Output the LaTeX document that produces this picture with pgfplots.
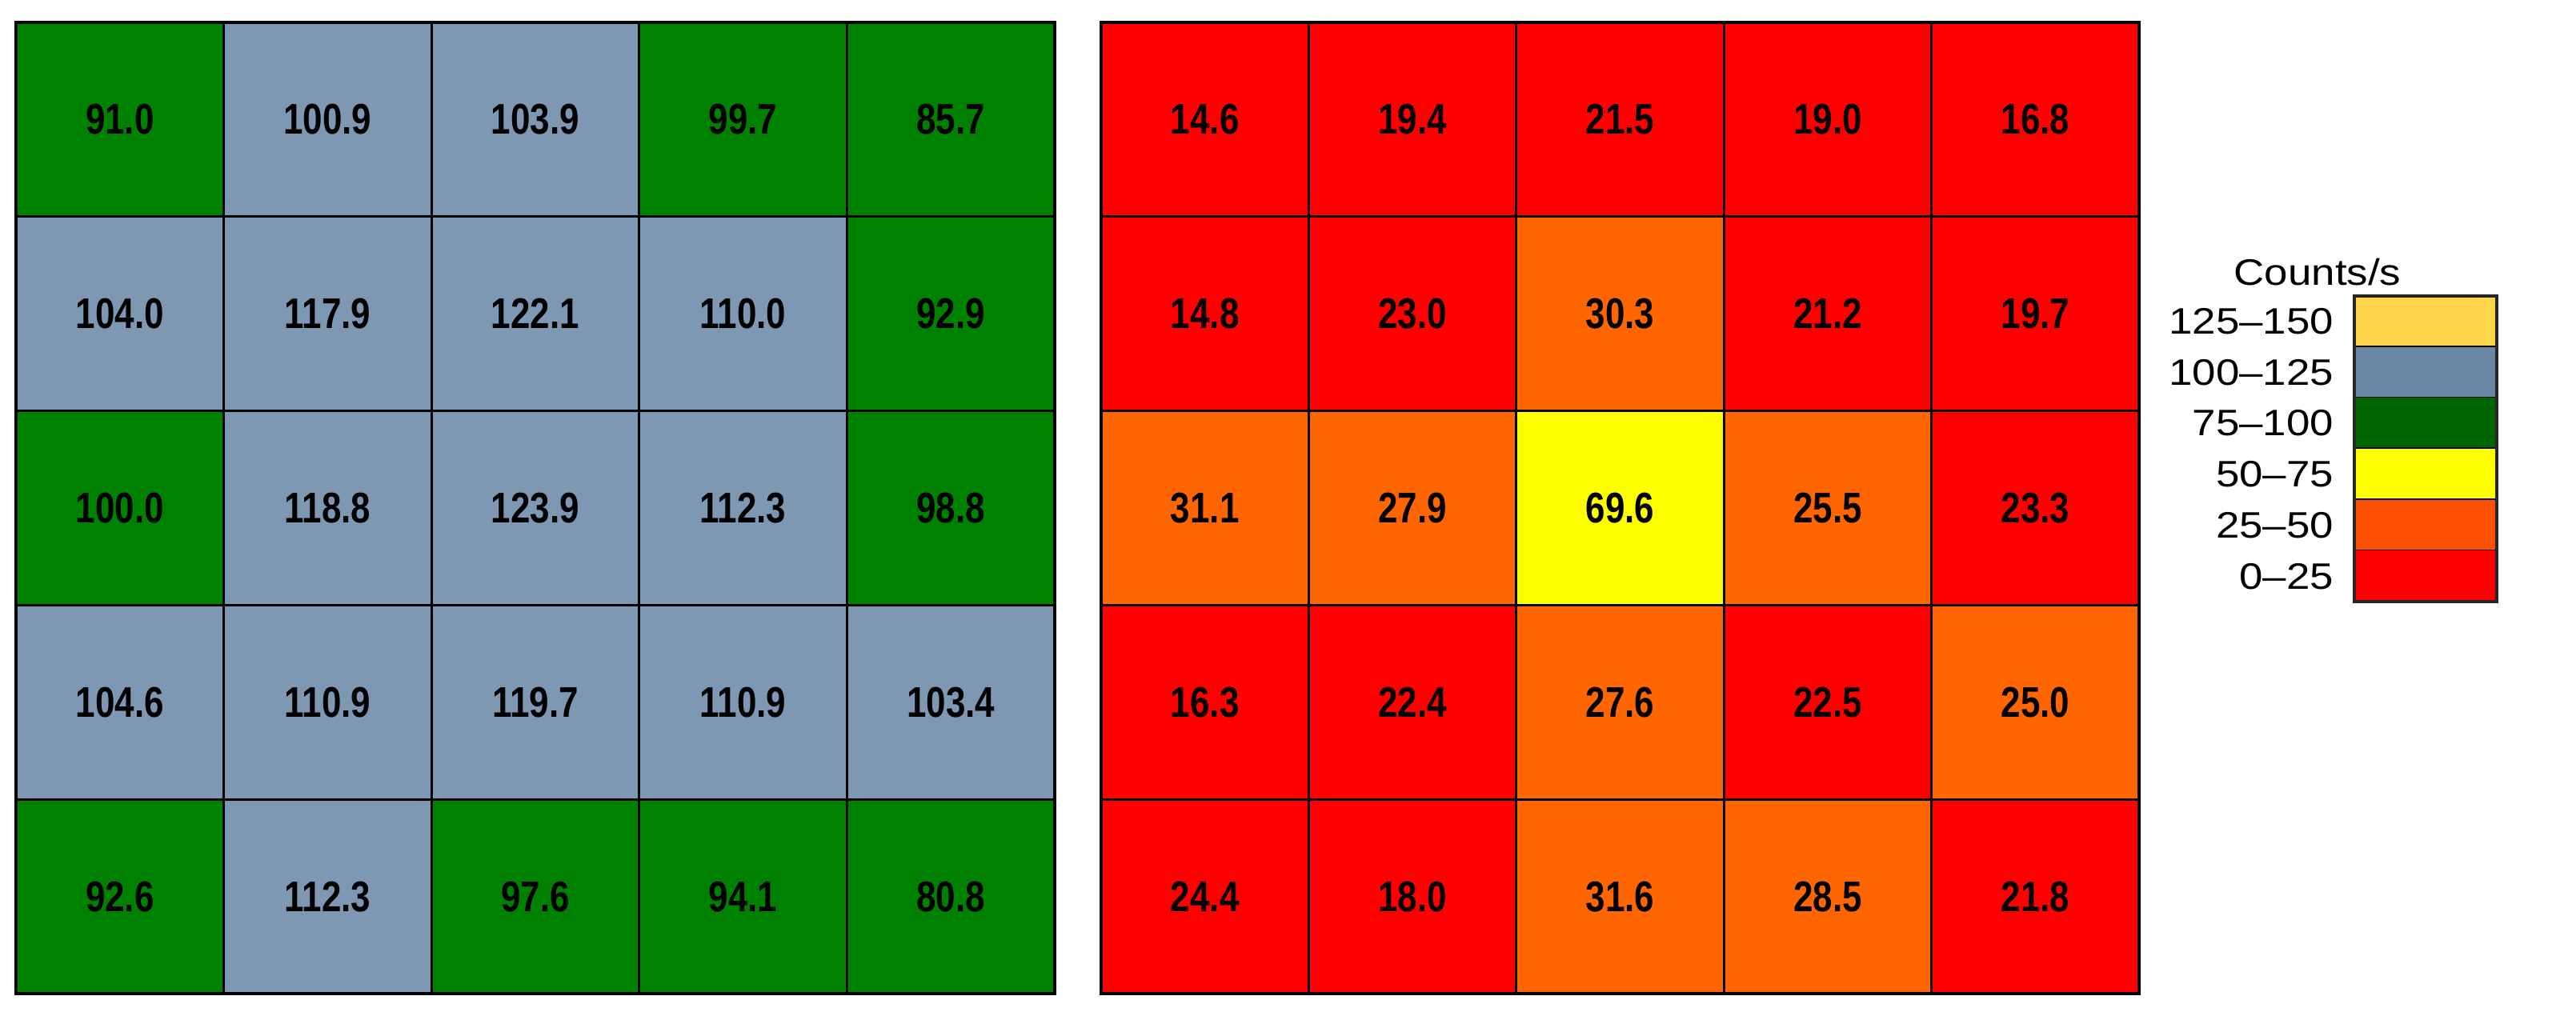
\documentclass[border=0pt]{standalone}
\usepackage{fontspec}
\setmainfont{Liberation Sans}
\usepackage{graphicx}
\usepackage{pgfplots}
\pgfplotsset{compat=1.18}
\usepackage{pgfplotstable}

% c = colour class: 0 = 0-25, 1 = 25-50, 2 = 50-75, 3 = 75-100, 4 = 100-125
\pgfplotstableread{
x y v c
0 0 91.0 3
1 0 100.9 4
2 0 103.9 4
3 0 99.7 3
4 0 85.7 3
0 1 104.0 4
1 1 117.9 4
2 1 122.1 4
3 1 110.0 4
4 1 92.9 3
0 2 100.0 3
1 2 118.8 4
2 2 123.9 4
3 2 112.3 4
4 2 98.8 3
0 3 104.6 4
1 3 110.9 4
2 3 119.7 4
3 3 110.9 4
4 3 103.4 4
0 4 92.6 3
1 4 112.3 4
2 4 97.6 3
3 4 94.1 3
4 4 80.8 3
}\leftdata

\pgfplotstableread{
x y v c
0 0 14.6 0
1 0 19.4 0
2 0 21.5 0
3 0 19.0 0
4 0 16.8 0
0 1 14.8 0
1 1 23.0 0
2 1 30.3 1
3 1 21.2 0
4 1 19.7 0
0 2 31.1 1
1 2 27.9 1
2 2 69.6 2
3 2 25.5 1
4 2 23.3 0
0 3 16.3 0
1 3 22.4 0
2 3 27.6 1
3 3 22.5 0
4 3 25.0 1
0 4 24.4 0
1 4 18.0 0
2 4 31.6 1
3 4 28.5 1
4 4 21.8 0
}\rightdata

\definecolor{lg125}{RGB}{255,213,74}
\definecolor{lg100}{RGB}{107,135,166}
\definecolor{lg75}{RGB}{0,102,0}
\definecolor{lg50}{RGB}{255,255,0}
\definecolor{lg25}{RGB}{255,80,0}
\definecolor{lg0}{RGB}{255,0,0}

\pgfplotsset{
  heat/.style={
    scale only axis, height=303.5pt,
    xmin=-0.5, xmax=4.5, ymin=-0.5, ymax=4.5, y dir=reverse,
    enlargelimits=false,
    xtick={0.5,1.5,2.5,3.5}, ytick={0.5,1.5,2.5,3.5},
    xticklabels={}, yticklabels={},
    major tick length=0pt,
    grid=major, major grid style={black, line width=0.75pt},
    axis line style={black, line width=1.0pt},
    axis on top,
    colormap={cells}{rgb255=(255,0,0) rgb255=(255,102,0) rgb255=(255,255,0) rgb255=(0,128,0) rgb255=(126,152,179)},
    colormap access=direct,
  },
  cellvals/.style={
    draw=none, mark=none,
    point meta=explicit symbolic,
    nodes near coords={\scalebox{0.82}[1]{\pgfplotspointmeta}},
    nodes near coords style={anchor=center, text=black, inner sep=0pt,
      font=\fontsize{13.4}{15}\selectfont\bfseries},
  },
}

\begin{document}
\begin{tikzpicture}
\path[use as bounding box] (0pt,0pt) rectangle (804.75pt,317.5pt);

\begin{axis}[heat, width=324.5pt, at={(5pt,7pt)}, anchor=south west]
  \addplot[matrix plot*, mesh/cols=5, point meta=explicit] table[x=x, y=y, meta=c] {\leftdata};
  \addplot[cellvals] table[x=x, y=y, meta=v] {\leftdata};
\end{axis}

\begin{axis}[heat, width=324.25pt, at={(344pt,7pt)}, anchor=south west]
  \addplot[matrix plot*, mesh/cols=5, point meta=explicit] table[x=x, y=y, meta=c] {\rightdata};
  \addplot[cellvals] table[x=x, y=y, meta=v] {\rightdata};
\end{axis}

% legend
\begin{scope}[x=0.25pt, y=0.25pt]
\node[anchor=base, inner sep=0pt, font=\fontsize{11.5}{13}\selectfont] at (2896,913) {\scalebox{1.15}[1]{Counts/s}};
\foreach \c [count=\i from 0] in {lg125,lg100,lg75,lg50,lg25,lg0} {
  \fill[\c] (2942,{900-\i*63.67}) rectangle (3120,{900-(\i+1)*63.67});
  \draw[black, line width=0.75pt] (2942,{900-(\i+1)*63.67}) -- (3120,{900-(\i+1)*63.67});
}
\draw[black!85, line width=1.0pt] (2942,518) rectangle (3120,900);
\foreach \t [count=\i from 0] in {125--150,100--125,75--100,50--75,25--50,0--25} {
  \node[anchor=east, inner sep=0pt, font=\fontsize{11.5}{13}\selectfont] at (2917,{900-(\i+0.5)*63.67}) {\scalebox{1.15}[1]{\t}};
}
\end{scope}
\end{tikzpicture}
\end{document}
